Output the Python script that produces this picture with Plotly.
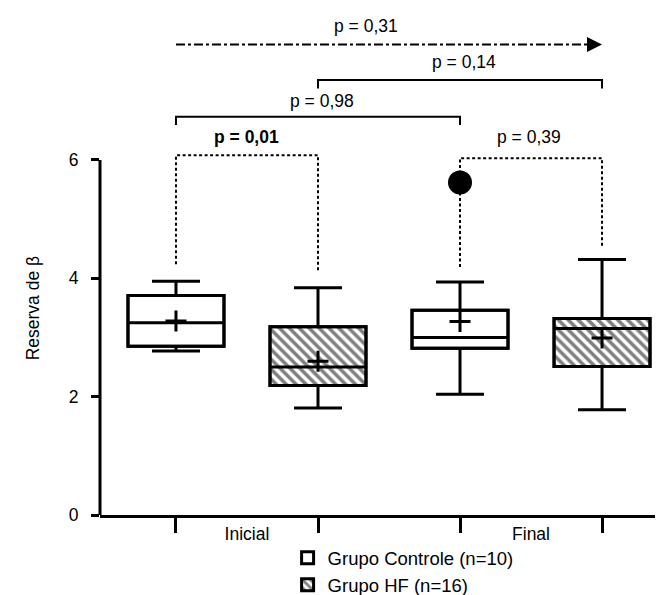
import plotly.graph_objects as go

# ---------------- data ----------------
categories = ["Inicial", "Final"]
groups = ["Grupo Controle (n=10)", "Grupo HF (n=16)"]

# box order: Controle-Inicial, HF-Inicial, Controle-Final, HF-Final
box_pos = [1, 2, 3, 4]
box_group = [0, 1, 0, 1]
q1 = [2.85, 2.19, 2.82, 2.51]
median = [3.25, 2.50, 3.00, 3.15]
q3 = [3.71, 3.18, 3.46, 3.32]
lower = [2.77, 1.81, 2.04, 1.78]
upper = [3.95, 3.84, 3.94, 4.32]
mean = [3.28, 2.60, 3.27, 2.99]

outlier_pos = [3]
outlier_val = [5.62]

y_ticks = [0, 2, 4, 6]

# comparison brackets
br_left = [1, 3, 1, 2]
br_right = [2, 4, 3, 4]
br_top = [6.08, 6.03, 6.73, 7.35]
br_left_end = [4.24, 4.19, 6.59, 7.21]
br_right_end = [4.13, 4.54, 6.59, 7.21]
br_label = ["<b>p = 0,01</b>", "p = 0,39", "p = 0,98", "p = 0,14"]
br_label_x = [1.5, 3.486, 2.03, 3.03]
br_label_y = [6.39, 6.39, 7.0, 7.66]

arrow_from = 1
arrow_to = 4
arrow_y = 7.95
arrow_label = "p = 0,31"
arrow_label_x = 2.34
arrow_label_y = 8.26

# ---------------- style ----------------
FONT = "Liberation Sans, Arial, Helvetica, sans-serif"
FS = 17.5
BOXW = 0.676
LW = 3
br_dash = ["3px,2.5px", "3px,2.5px", "solid", "solid"]

fig = go.Figure()

# hatched / white bars as box bodies (drawn below box outlines)
for g in range(2):
    idx = [i for i in range(4) if box_group[i] == g]
    marker = dict(color="white", line=dict(color="black", width=LW))
    if g == 1:
        marker["pattern"] = dict(shape="\\", fgcolor="black", bgcolor="white",
                                 size=7, solidity=0.5)
    fig.add_trace(go.Bar(
        x=[box_pos[i] for i in idx],
        y=[q3[i] - q1[i] for i in idx],
        base=[q1[i] for i in idx],
        width=BOXW, marker=marker, name=groups[g],
        legendgroup=groups[g], showlegend=True, hoverinfo="skip"))

# box outlines, medians and whiskers
for g in range(2):
    idx = [i for i in range(4) if box_group[i] == g]
    fig.add_trace(go.Box(
        x=[box_pos[i] for i in idx],
        q1=[q1[i] for i in idx],
        median=[median[i] for i in idx],
        q3=[q3[i] for i in idx],
        lowerfence=[lower[i] for i in idx],
        upperfence=[upper[i] for i in idx],
        width=BOXW, whiskerwidth=0.5, boxpoints=False,
        line=dict(color="black", width=LW),
        fillcolor="rgba(0,0,0,0)", showlegend=False, hoverinfo="skip"))

# brackets
for i in range(len(br_left)):
    fig.add_trace(go.Scatter(
        x=[br_left[i], br_left[i], br_right[i], br_right[i]],
        y=[br_left_end[i], br_top[i], br_top[i], br_right_end[i]],
        mode="lines", line=dict(color="black", width=2, dash=br_dash[i]),
        showlegend=False, hoverinfo="skip"))
    fig.add_annotation(x=br_label_x[i], y=br_label_y[i], text=br_label[i],
                       showarrow=False, xanchor="center", yanchor="middle",
                       font=dict(family=FONT, size=FS, color="black"))

# dash-dot arrow
fig.add_trace(go.Scatter(
    x=[arrow_from, arrow_to - 0.08], y=[arrow_y, arrow_y], mode="lines",
    line=dict(color="black", width=2, dash="9px,3px,3px,3px"),
    showlegend=False, hoverinfo="skip"))
fig.add_trace(go.Scatter(
    x=[arrow_to], y=[arrow_y], mode="markers",
    marker=dict(symbol="arrow-right", size=15, color="black", line=dict(width=0)),
    showlegend=False, hoverinfo="skip"))
fig.add_annotation(x=arrow_label_x, y=arrow_label_y, text=arrow_label,
                   showarrow=False, xanchor="center", yanchor="middle",
                   font=dict(family=FONT, size=FS, color="black"))

# outlier
fig.add_trace(go.Scatter(
    x=outlier_pos, y=outlier_val, mode="markers",
    marker=dict(symbol="circle", size=24, color="black"),
    showlegend=False, hoverinfo="skip"))

# means (+)
fig.add_trace(go.Scatter(
    x=box_pos, y=mean, mode="markers",
    marker=dict(symbol="cross-thin", size=15, line=dict(color="black", width=3)),
    showlegend=False, hoverinfo="skip"))

# y-axis line only up to the last tick
fig.add_shape(type="line", xref="paper", yref="y", x0=0, x1=0,
              y0=min(y_ticks), y1=max(y_ticks),
              line=dict(color="black", width=LW))

# y-axis title
fig.add_annotation(xref="paper", yref="y", x=-0.12, y=3.5, text="Reserva de β",
                   textangle=-90, showarrow=False, xanchor="center", yanchor="middle",
                   font=dict(family=FONT, size=FS, color="black"))

fig.update_layout(
    width=662, height=595,
    margin=dict(l=100, r=7, t=10, b=80, autoexpand=False),
    paper_bgcolor="white", plot_bgcolor="white",
    barmode="overlay", boxmode="overlay",
    font=dict(family=FONT, size=FS, color="black"),
    legend=dict(x=0.338, y=-0.048, xanchor="left", yanchor="top",
                font=dict(family=FONT, size=18.5, color="black"),
                tracegroupgap=0, bgcolor="rgba(0,0,0,0)"),
    xaxis=dict(range=[0.465, 4.373], tickvals=[1.5, 3.5], ticktext=categories,
               ticks="", ticklabelstandoff=1,
               showline=True, linecolor="black", linewidth=LW,
               showgrid=False, zeroline=False,
               minor=dict(tickvals=box_pos, ticks="outside", ticklen=15,
                          tickwidth=LW, tickcolor="black", showgrid=False)),
    yaxis=dict(range=[0, 8.535], tickvals=y_ticks, ticks="outside", ticklen=8,
               tickwidth=LW, tickcolor="black", ticklabelstandoff=9,
               showline=False, showgrid=False, zeroline=False),
)

fig.write_html("out.html")
